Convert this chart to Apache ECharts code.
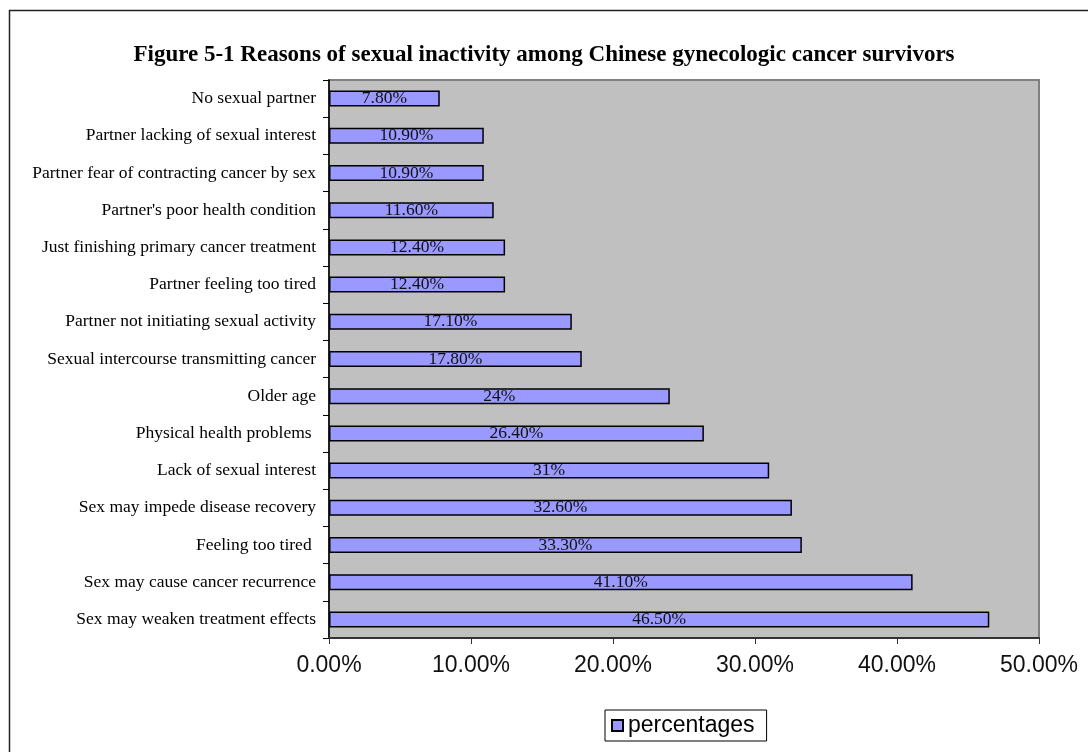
<!DOCTYPE html>
<html>
<head>
<meta charset="utf-8">
<script src="https://cdn.jsdelivr.net/npm/echarts@6/dist/echarts.min.js"></script>
<style>
  html, body { margin: 0; padding: 0; background: #fff; }
  #chart { width: 1088px; height: 752px; }
</style>
</head>
<body>
<div id="chart"></div>
<script>
// Reasons, listed from the top of the chart downwards
const categories = [
  'No sexual partner',
  'Partner lacking of sexual interest',
  'Partner fear of contracting cancer by sex',
  "Partner's poor health condition",
  'Just finishing primary cancer treatment',
  'Partner feeling too tired',
  'Partner not initiating sexual activity',
  'Sexual intercourse transmitting cancer',
  'Older age',
  'Physical health problems ',
  'Lack of sexual interest',
  'Sex may impede disease recovery',
  'Feeling too tired ',
  'Sex may cause cancer recurrence',
  'Sex may weaken treatment effects'
];

// Share of survivors (percent)
const percentages = [7.8, 10.9, 10.9, 11.6, 12.4, 12.4, 17.1, 17.8, 24, 26.4, 31, 32.6, 33.3, 41.1, 46.5];

// Value axis ticks (percent)
const axisTicks = [0, 10, 20, 30, 40, 50];

const serif = '"Liberation Serif", "Times New Roman", serif';
const sans = '"Liberation Sans", Arial, sans-serif';

const chart = echarts.init(document.getElementById('chart'), null, { renderer: 'canvas' });

chart.setOption({
  backgroundColor: '#ffffff',
  animation: false,
  graphic: [{
    type: 'rect',
    shape: { x: 9.5, y: 10.5, width: 1200, height: 900 },
    style: { fill: 'none', stroke: '#222', lineWidth: 1.5 },
    silent: true,
    z: 100
  }],
  title: {
    text: 'Figure 5-1 Reasons of sexual inactivity among Chinese gynecologic cancer survivors',
    left: 'center',
    top: 39,
    textStyle: { fontFamily: serif, fontWeight: 'bold', fontSize: 23, color: '#000' }
  },
  legend: {
    data: ['percentages'],
    left: 605,
    top: 710,
    icon: 'rect',
    itemWidth: 11,
    itemHeight: 11,
    padding: [4, 12, 4, 6],
    borderColor: '#000',
    borderWidth: 1,
    textStyle: { fontFamily: sans, fontSize: 23, color: '#000' }
  },
  grid: {
    left: 329,
    right: 49,
    top: 80,
    bottom: 114,
    show: true,
    backgroundColor: '#C0C0C0',
    borderColor: '#808080',
    borderWidth: 2
  },
  xAxis: {
    type: 'value',
    min: axisTicks[0],
    max: axisTicks[axisTicks.length - 1],
    interval: axisTicks[1] - axisTicks[0],
    axisLine: { show: true, lineStyle: { color: '#333', width: 2 } },
    axisTick: { show: true, length: 6, lineStyle: { color: '#333', width: 1 } },
    splitLine: { show: false },
    axisLabel: {
      margin: 16,
      fontFamily: sans,
      fontSize: 23,
      color: '#111',
      formatter: v => v.toFixed(2) + '%'
    }
  },
  yAxis: {
    type: 'category',
    data: categories,
    inverse: true,
    axisLine: { show: true, lineStyle: { color: '#000', width: 1.5 } },
    axisTick: { show: true, length: 6, lineStyle: { color: '#000', width: 1 } },
    axisLabel: {
      margin: 13,
      fontFamily: serif,
      fontSize: 17.5,
      color: '#000',
      interval: 0
    }
  },
  series: [{
    name: 'percentages',
    type: 'bar',
    data: percentages,
    barWidth: 16,
    itemStyle: { color: '#9999FF', borderColor: '#000', borderWidth: 1.5 },
    label: {
      show: true,
      position: 'inside',
      fontFamily: serif,
      fontSize: 17.5,
      color: '#111',
      formatter: p => (Number.isInteger(p.value) ? p.value : p.value.toFixed(2)) + '%'
    }
  }]
});
</script>
</body>
</html>
